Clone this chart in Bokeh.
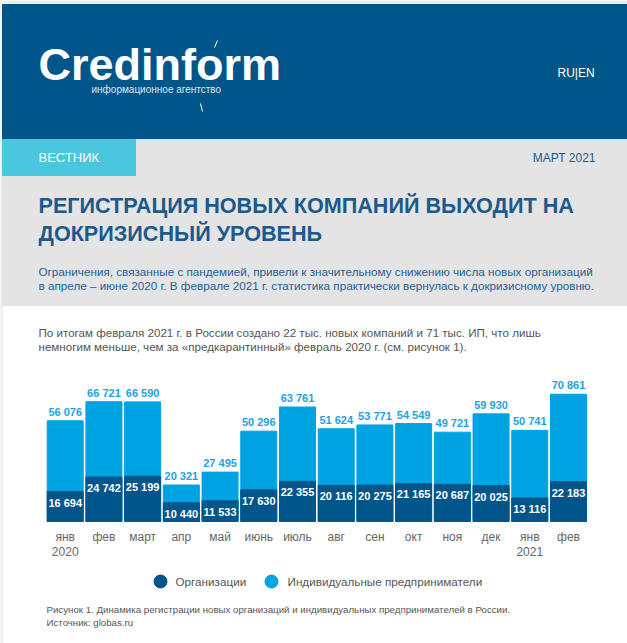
from bokeh.plotting import figure
from bokeh.models import Range1d, ColumnDataSource
from bokeh.embed import file_html
from bokeh.resources import INLINE
from bokeh.core.properties import value

# ---------------- data ----------------
months = ["янв", "фев", "март", "апр", "май", "июнь", "июль",
          "авг", "сен", "окт", "ноя", "дек", "янв", "фев"]
year_idx = [0, 12]
year_labels = ["2020", "2021"]
ip = [56076, 66721, 66590, 20321, 27495, 50296, 63761,
      51624, 53771, 54549, 49721, 59930, 50741, 70861]
org = [16694, 24742, 25199, 10440, 11533, 17630, 22355,
       20116, 20275, 21165, 20687, 20025, 13116, 22183]
series_names = ["Организации", "Индивидуальные предприниматели"]

title_lines = ["РЕГИСТРАЦИЯ НОВЫХ КОМПАНИЙ ВЫХОДИТ НА", "ДОКРИЗИСНЫЙ УРОВЕНЬ"]
lead_lines = ["Ограничения, связанные с пандемией, привели к значительному снижению числа новых организаций",
              "в апреле – июне 2020 г. В феврале 2021 г. статистика практически вернулась к докризисному уровню."]
body_lines = ["По итогам февраля 2021 г. в России создано 22 тыс. новых компаний и 71 тыс. ИП, что лишь",
              "немногим меньше, чем за «предкарантинный» февраль 2020 г. (см. рисунок 1)."]
caption_lines = ["Рисунок 1. Динамика регистрации новых организаций и индивидуальных предпринимателей в России.",
                 "Источник: globas.ru"]

# ---------------- styles ----------------
FONT = value("Liberation Sans")
HEADER = "#005689"
CYAN = "#4bc6df"
GRAY = "#e4e4e4"
EDGE = "#efefeb"
DARK = "#00558a"
LIGHT = "#00a3e2"
LIGHT_TXT = "#1ea2e2"
TITLE = "#1b5a8e"
LEAD = "#245f96"
BODY = "#555555"

W, H = 627, 643
X0, Y0 = 0, 0
X1, Y1 = X0 + W, Y0 + H

# chart area geometry (page pixels)
CH_LEFT, CH_RIGHT = 45.35, 587.35
BASE_Y = 521
PX_PER_UNIT = 0.001796

p = figure(width=W, height=H, x_range=Range1d(X0, X1), y_range=Range1d(Y1, Y0),
           output_backend="svg", toolbar_location=None, tools="",
           x_axis_location=None, y_axis_location=None, min_border=0)
p.grid.visible = False
p.outline_line_color = None
p.background_fill_color = "white"
p.border_fill_color = "white"

n = len(months)
pitch = (CH_RIGHT - CH_LEFT) / n
p.extra_x_ranges = {"cx": Range1d(-0.5 + (X0 - CH_LEFT) / pitch, n - 0.5 + (X1 - CH_RIGHT) / pitch)}
p.extra_y_ranges = {"cy": Range1d(-(Y1 - BASE_Y) / PX_PER_UNIT, (BASE_Y - Y0) / PX_PER_UNIT)}

# ---------------- page edges / header / title / text ----------------
p.quad(left=[0], right=[627], top=[0], bottom=[4], color=EDGE)
p.quad(left=[0], right=[2], top=[0], bottom=[643], color=EDGE)
p.quad(left=[2], right=[627], top=[4], bottom=[139], color=HEADER)
p.quad(left=[2], right=[627], top=[139], bottom=[305], color=GRAY)
p.quad(left=[2], right=[135], top=[139], bottom=[175], color=CYAN)

p.text(x=[38], y=[64], text=["Credinform"], text_font=FONT, text_font_size="45px",
       text_font_style="bold", text_color="white", text_baseline="middle")
p.segment(x0=[214, 200], y0=[47, 103], x1=[217, 202], y1=[40, 111],
          line_color="white", line_width=1)
p.text(x=[91], y=[89], text=["информационное агентство"], text_font=FONT,
       text_font_size="10px", text_color="#dce6ef", text_baseline="middle")
p.text(x=[557], y=[72], text=["RU|EN"], text_font=FONT, text_font_size="12px",
       text_color="white", text_baseline="middle")

p.text(x=[38], y=[157], text=["ВЕСТНИК"], text_font=FONT, text_font_size="13px",
       text_color="white", text_baseline="middle")
p.text(x=[595], y=[157], text=["МАРТ 2021"], text_font=FONT, text_font_size="12px",
       text_color=TITLE, text_baseline="middle", text_align="right")

p.text(x=[38, 38], y=[205, 233], text=title_lines, text_font=FONT, text_font_size="21.6px",
       text_font_style="bold", text_color=TITLE, text_baseline="middle")
p.text(x=[38, 38], y=[271, 285], text=lead_lines, text_font=FONT, text_font_size="11.7px",
       text_color=LEAD, text_baseline="middle")
p.text(x=[38, 38], y=[332, 346], text=body_lines, text_font=FONT, text_font_size="11.6px",
       text_color=BODY, text_baseline="middle")

# ---------------- chart ----------------


def fmt(v):
    return f"{v:,}".replace(",", " ")


idx = list(range(n))
src = ColumnDataSource(dict(i=idx, m=months, ip=ip, org=org,
                            ip_lab=[fmt(v) for v in ip], org_lab=[fmt(v) for v in org]))

p.vbar(x="i", top="ip", bottom=0, width=0.93, source=src, color=LIGHT,
       x_range_name="cx", y_range_name="cy")
p.vbar(x="i", top="org", bottom=0, width=0.93, source=src, color=DARK,
       x_range_name="cx", y_range_name="cy")
p.text(x="i", y="ip", text="ip_lab", source=src, text_align="center", text_baseline="bottom",
       y_offset=-3, text_font=FONT, text_font_size="11px", text_font_style="bold",
       text_color=LIGHT_TXT, x_range_name="cx", y_range_name="cy")
p.text(x="i", y="org", text="org_lab", source=src, text_align="center", text_baseline="top",
       y_offset=5, text_font=FONT, text_font_size="11px", text_font_style="bold",
       text_color="white", x_range_name="cx", y_range_name="cy")

# category labels (month row and year row)
p.text(x="i", y=536, text="m", source=src, text_align="center", text_baseline="middle",
       text_font=FONT, text_font_size="12px", text_color="#666666", x_range_name="cx")
p.text(x=year_idx, y=[551, 551], text=year_labels, text_align="center", text_baseline="middle",
       text_font=FONT, text_font_size="12px", text_color="#666666", x_range_name="cx")

# ---------------- legend / caption ----------------
p.scatter(x=[160, 271], y=[581, 581], size=13, marker="circle", color=[DARK, LIGHT])
p.text(x=[175, 287], y=[581, 581], text=series_names, text_font=FONT, text_font_size="11.7px",
       text_color=BODY, text_baseline="middle")
p.text(x=[46, 46], y=[609, 622], text=caption_lines, text_font=FONT, text_font_size="9.7px",
       text_color=BODY, text_baseline="middle")

open("out.html", "w").write(file_html(p, INLINE))
